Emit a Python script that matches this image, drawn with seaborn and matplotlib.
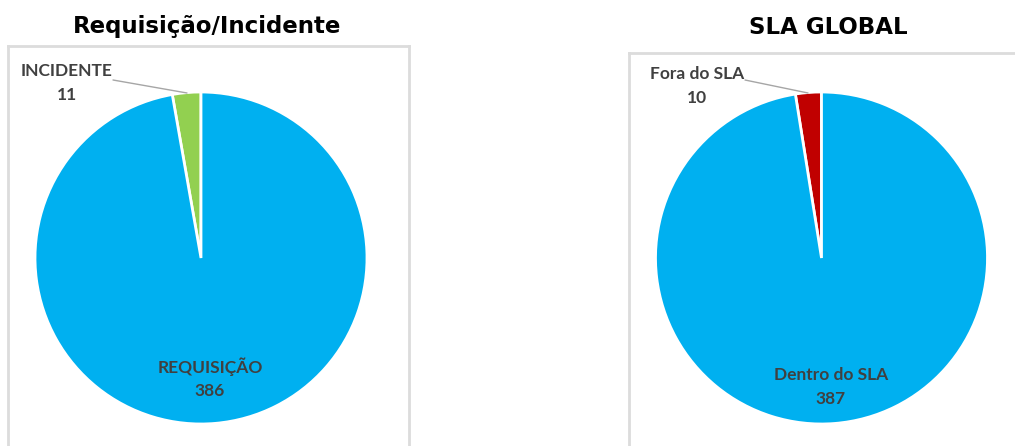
import matplotlib
matplotlib.use("Agg")
import matplotlib.pyplot as plt
import seaborn as sns

sns.set_theme(style="white")
plt.rcParams["font.family"] = ["Lato", "DejaVu Sans"]

# Chart data
req_labels = ["INCIDENTE", "REQUISIÇÃO"]
req_values = [11, 386]
sla_labels = ["Fora do SLA", "Dentro do SLA"]
sla_values = [10, 387]
titles = ["Requisição/Incidente", "SLA GLOBAL"]

BLUE = "#00B0F0"
req_colors = ["#92D050", BLUE]
sla_colors = ["#C00000", BLUE]
TEXT = "#404040"
BORDER = "#DCDCDC"

W, H = 1015, 446
fig = plt.figure(figsize=(W / 100, H / 100), dpi=100)
fig.patch.set_facecolor("white")


def panel(left, right, top, bottom):
    """Axes whose data units are figure pixels (y measured upward)."""
    ax = fig.add_axes([left / W, (H - bottom) / H, (right - left) / W, (bottom - top) / H])
    return ax, (left, right, H - bottom, H - top)


def draw(ax, lims, values, labels, colors, center, radius, outer_xy, inner_xy, line_pts):
    cx, cy = center
    ax.pie(values, colors=colors, startangle=90, counterclock=True,
           center=(cx, H - cy), radius=radius, frame=True,
           wedgeprops=dict(edgecolor="white", linewidth=2.0))
    ax.set_xlim(lims[0], lims[1])
    ax.set_ylim(lims[2], lims[3])
    ax.set_aspect("auto")
    ax.set_xticks([])
    ax.set_yticks([])
    for s in ax.spines.values():
        s.set_visible(True)
        s.set_color(BORDER)
        s.set_linewidth(2.0)
    ax.text(outer_xy[0], H - outer_xy[1], f"{labels[0]}\n{values[0]}", ha="center", va="center",
            fontsize=12.5, fontweight="bold", color=TEXT, linespacing=1.55)
    ax.text(inner_xy[0], H - inner_xy[1], f"{labels[1]}\n{values[1]}", ha="center", va="center",
            fontsize=12.5, fontweight="bold", color=TEXT, linespacing=1.55)
    (x0, y0), (x1, y1) = line_pts
    ax.plot([x0, x1], [H - y0, H - y1], color="#A6A6A6", linewidth=1.0)


ax1, lim1 = panel(8, 409, 46, 452)
draw(ax1, lim1, req_values, req_labels, req_colors, (201, 258), 166,
     (67, 83), (210, 378), ((113, 80), (187, 93)))

ax2, lim2 = panel(629, 1025, 53, 452)
draw(ax2, lim2, sla_values, sla_labels, sla_colors, (821.5, 258), 166,
     (697, 86), (831, 387), ((745, 80), (808, 93)))

fig.text(207 / W, 1 - 27 / H, titles[0], ha="center", va="center",
         fontsize=16.5, fontweight="bold", color="black", family=["DejaVu Sans"])
fig.text(828 / W, 1 - 27 / H, titles[1], ha="center", va="center",
         fontsize=16.5, fontweight="bold", color="black", family=["DejaVu Sans"])

fig.savefig("out.png", dpi=100, facecolor="white")
